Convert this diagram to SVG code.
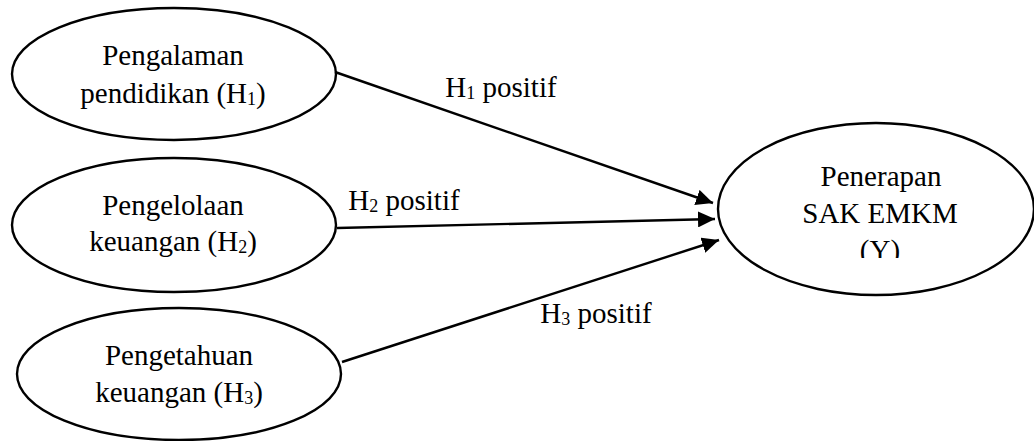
<svg xmlns="http://www.w3.org/2000/svg" width="1034" height="441" viewBox="0 0 1034 441">
<style>
.node ellipse{fill:#fff;stroke:#000;stroke-width:2.4}
text{font-family:"Liberation Serif","Times New Roman",serif;font-size:29px;fill:#000;text-anchor:middle}
.sub{font-size:18px}
.conn line{stroke:#000;stroke-width:2.4}
</style>
<defs>
<marker id="arr" markerUnits="userSpaceOnUse" markerWidth="18" markerHeight="16" refX="17" refY="8" orient="auto">
<path d="M0,0 L17,8 L0,16 Z" fill="#000"/>
</marker>
<clipPath id="clipY"><rect x="700" y="100" width="334" height="158"/></clipPath>
</defs>
<rect width="1034" height="441" fill="#fff"/>
<g id="n1" class="node">
<ellipse cx="174" cy="74" rx="162" ry="66"/>
<text x="173" y="65">Pengalaman</text>
<text x="173" y="103">pendidikan (H<tspan class="sub" dy="2">1</tspan><tspan dy="-2">)</tspan></text>
</g>
<g id="n2" class="node">
<ellipse cx="174" cy="225" rx="162" ry="67"/>
<text x="173" y="215">Pengelolaan</text>
<text x="173" y="251">keuangan (H<tspan class="sub" dy="2">2</tspan><tspan dy="-2">)</tspan></text>
</g>
<g id="n3" class="node">
<ellipse cx="179" cy="374" rx="162" ry="66"/>
<text x="179" y="365">Pengetahuan</text>
<text x="179" y="402">keuangan (H<tspan class="sub" dy="2">3</tspan><tspan dy="-2">)</tspan></text>
</g>
<g id="nY" class="node">
<ellipse cx="876" cy="209" rx="158" ry="86"/>
<text x="881" y="186">Penerapan</text>
<text x="880" y="223">SAK EMKM</text>
<text x="880" y="260" clip-path="url(#clipY)">(Y)</text>
</g>
<g id="connectors" class="conn">
<line x1="335" y1="72" x2="713" y2="203" marker-end="url(#arr)"/>
<line x1="337" y1="228" x2="715" y2="219" marker-end="url(#arr)"/>
<line x1="342" y1="362" x2="719" y2="240" marker-end="url(#arr)"/>
<text x="501" y="97">H<tspan class="sub" dy="2">1</tspan><tspan dy="-2"> positif</tspan></text>
<text x="404" y="210">H<tspan class="sub" dy="2">2</tspan><tspan dy="-2"> positif</tspan></text>
<text x="596" y="323">H<tspan class="sub" dy="2">3</tspan><tspan dy="-2"> positif</tspan></text>
</g>
</svg>
